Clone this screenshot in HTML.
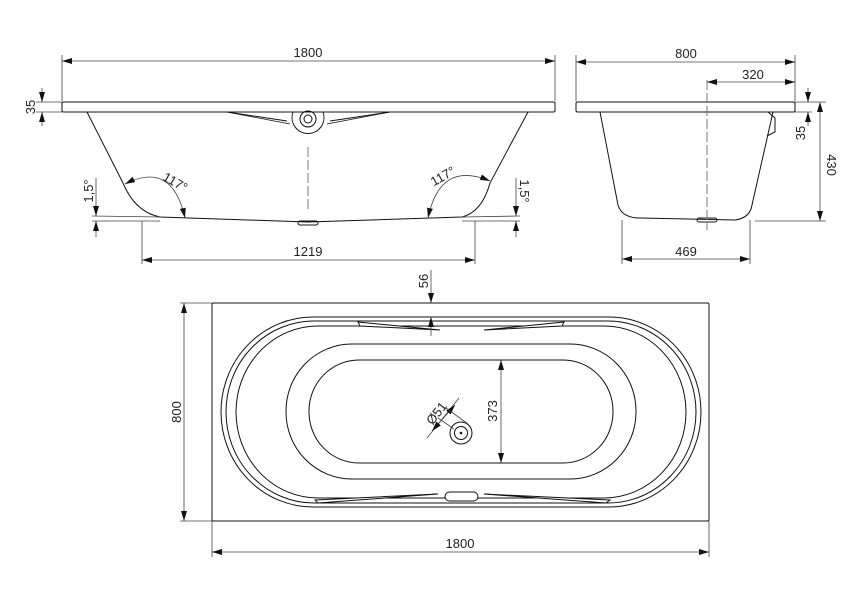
<!DOCTYPE html>
<html><head><meta charset="utf-8"><style>
html,body{margin:0;padding:0;background:#fff;}
svg{display:block;}
text{font-family:"Liberation Sans",Arial,sans-serif;font-size:13px;fill:#222;}
</style></head><body>
<svg width="842" height="595" viewBox="0 0 842 595" xmlns="http://www.w3.org/2000/svg">
<defs>
<marker id="a" viewBox="0 0 10 6" refX="10" refY="3" markerWidth="10" markerHeight="6" orient="auto-start-reverse" markerUnits="userSpaceOnUse"><path d="M0,0 L10,3 L0,6 z" fill="#111"/></marker>
</defs>
<g fill="none" stroke="#111" stroke-width="1">
<rect x="62" y="102" width="493" height="10" rx="1.5" fill="#fff"/>
<path d="M87,112 L123,183 Q135,212 160,217 L308,222 L462,217 Q482,212 490,183 L528,112"/>
<path d="M227,112 L287,121 M390,112 L330,121" />
<path d="M227,112 L290,124 M390,112 L327,124" stroke-width="0.7"/>
<path d="M293,112 A16,16 0 1 0 323,112"/>
<circle cx="308" cy="119" r="8"/>
<circle cx="308" cy="119" r="4"/>
<rect x="298" y="221" width="20" height="4" rx="2"/>
<line x1="308" y1="147" x2="308" y2="212" stroke="#777" stroke-dasharray="10,3"/>
<g stroke="#444" stroke-width="0.8">
<line x1="62" y1="55" x2="62" y2="101"/><line x1="555" y1="55" x2="555" y2="101"/>
<line x1="62" y1="61" x2="555" y2="61" marker-start="url(#a)" marker-end="url(#a)"/>
<line x1="36" y1="102" x2="62" y2="102"/><line x1="36" y1="112" x2="62" y2="112"/>
<line x1="42" y1="88" x2="42" y2="102" marker-end="url(#a)"/>
<line x1="42" y1="126" x2="42" y2="112" marker-end="url(#a)"/>
<line x1="92" y1="216" x2="160" y2="217"/><line x1="92" y1="221" x2="160" y2="221"/>
<line x1="96" y1="178" x2="96" y2="216" marker-end="url(#a)"/>
<line x1="96" y1="237" x2="96" y2="221" marker-end="url(#a)"/>
<line x1="462" y1="217" x2="520" y2="216"/><line x1="462" y1="221" x2="520" y2="221"/>
<line x1="516" y1="178" x2="516" y2="216" marker-end="url(#a)"/>
<line x1="516" y1="237" x2="516" y2="221" marker-end="url(#a)"/>
<line x1="142" y1="221" x2="142" y2="264"/><line x1="475" y1="221" x2="475" y2="264"/>
<line x1="142" y1="260" x2="475" y2="260" marker-start="url(#a)" marker-end="url(#a)"/>
<path d="M125,184 Q172,160 185,218" marker-start="url(#a)" marker-end="url(#a)"/>
<path d="M428,218 Q440,160 490,181" marker-start="url(#a)" marker-end="url(#a)"/>
</g>
<rect x="576" y="102" width="219" height="10" rx="1.5" fill="#fff"/>
<path d="M600,112 L618,205 Q622,218 640,218 L735,220 Q750,218 752,205 L773,112"/>
<path d="M768,112 L775,118 L775,132 L767,136"/>
<rect x="697" y="218" width="20" height="4" rx="2"/>
<line x1="707" y1="80" x2="707" y2="230" stroke="#777" stroke-dasharray="10,3"/>
<g stroke="#444" stroke-width="0.8">
<line x1="576" y1="55" x2="576" y2="101"/><line x1="795" y1="55" x2="795" y2="101"/>
<line x1="576" y1="62" x2="795" y2="62" marker-start="url(#a)" marker-end="url(#a)"/>
<line x1="707" y1="82" x2="795" y2="82" marker-start="url(#a)" marker-end="url(#a)"/>
<line x1="795" y1="102" x2="826" y2="102"/><line x1="755" y1="221" x2="826" y2="221"/>
<line x1="795" y1="112" x2="812" y2="112"/>
<line x1="808" y1="88" x2="808" y2="102" marker-end="url(#a)"/>
<line x1="808" y1="126" x2="808" y2="112" marker-end="url(#a)"/>
<line x1="820" y1="102" x2="820" y2="221" marker-start="url(#a)" marker-end="url(#a)"/>
<line x1="622" y1="220" x2="622" y2="264"/><line x1="750" y1="220" x2="750" y2="264"/>
<line x1="622" y1="259" x2="750" y2="259" marker-start="url(#a)" marker-end="url(#a)"/>
</g>
<rect x="212" y="303" width="497" height="218" rx="1.5"/>
<rect x="221" y="317" width="480" height="190" rx="92" ry="95"/>
<rect x="226" y="321" width="470" height="182" rx="88" ry="91"/>
<rect x="236" y="326" width="450" height="172" rx="82" ry="86"/>
<rect x="286" y="344" width="350" height="135" rx="66" ry="67"/>
<rect x="309" y="360" width="304" height="103" rx="50" ry="51"/>
<path d="M358,322 L440,330 L360,326 Z M564,322 L484,330 L562,326 Z" fill="#fff"/>
<path d="M315,500 L438,494 L318,503 Z M610,500 L484,494 L606,503 Z" fill="#fff"/>
<rect x="445" y="492" width="33" height="9" rx="4.5" fill="#fff"/>
<circle cx="461" cy="433" r="11"/>
<circle cx="461" cy="433" r="6.5"/>
<circle cx="461" cy="433" r="0.8" fill="#111"/>
<g stroke="#444" stroke-width="0.8">
<line x1="180" y1="303" x2="212" y2="303"/><line x1="180" y1="521" x2="212" y2="521"/>
<line x1="184" y1="303" x2="184" y2="521" marker-start="url(#a)" marker-end="url(#a)"/>
<line x1="212" y1="521" x2="212" y2="557"/><line x1="709" y1="521" x2="709" y2="557"/>
<line x1="212" y1="552" x2="709" y2="552" marker-start="url(#a)" marker-end="url(#a)"/>
<line x1="501" y1="360" x2="501" y2="463" marker-start="url(#a)" marker-end="url(#a)"/>
<line x1="431" y1="270" x2="431" y2="303" marker-end="url(#a)"/>
<line x1="431" y1="336" x2="431" y2="317" marker-end="url(#a)"/>
<line x1="427" y1="438" x2="459" y2="398"/>
<line x1="432" y1="431" x2="455" y2="405" marker-start="url(#a)" marker-end="url(#a)"/>
<line x1="438" y1="418" x2="454" y2="429"/><line x1="446" y1="408" x2="468" y2="424"/>
</g>
</g>
<text x="308" y="57" text-anchor="middle">1800</text>
<text transform="translate(35,107) rotate(-90)" text-anchor="middle">35</text>
<text transform="translate(93,191) rotate(-90)" text-anchor="middle">1,5°</text>
<text transform="translate(520,191) rotate(90)" text-anchor="middle">1,5°</text>
<text transform="translate(173,186) rotate(30)" text-anchor="middle">117°</text>
<text transform="translate(445,180) rotate(-30)" text-anchor="middle">117°</text>
<text x="308" y="256" text-anchor="middle">1219</text>
<text x="686" y="58" text-anchor="middle">800</text>
<text x="753" y="79" text-anchor="middle">320</text>
<text transform="translate(805,133) rotate(-90)" text-anchor="middle">35</text>
<text transform="translate(827,165) rotate(90)" text-anchor="middle">430</text>
<text x="686" y="256" text-anchor="middle">469</text>
<text transform="translate(428,281) rotate(-90)" text-anchor="middle">56</text>
<text transform="translate(181,412) rotate(-90)" text-anchor="middle">800</text>
<text transform="translate(497,411) rotate(-90)" text-anchor="middle">373</text>
<text transform="translate(440,416) rotate(-52)" text-anchor="middle">Ø51</text>
<text x="460" y="548" text-anchor="middle">1800</text>
</svg>
</body></html>
